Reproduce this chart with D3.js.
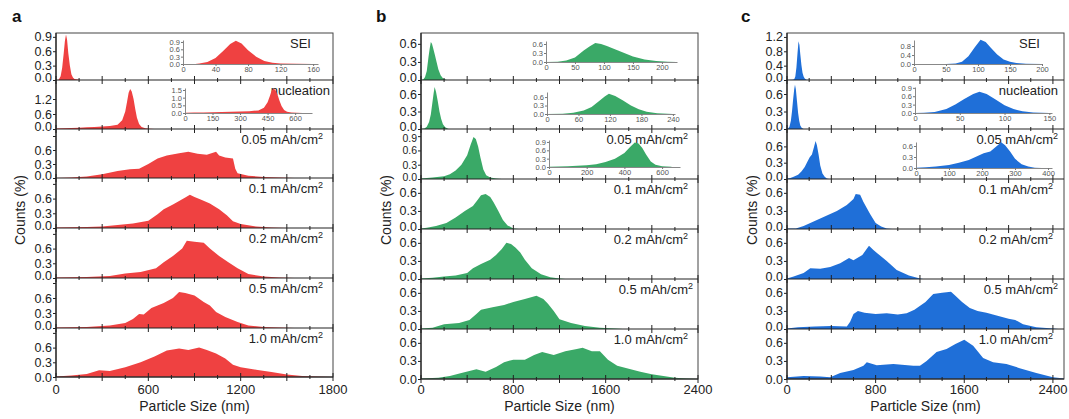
<!DOCTYPE html>
<html>
<head>
<meta charset="utf-8">
<script src="https://cdn.jsdelivr.net/npm/d3@7"></script>
<style>
body { margin: 0; background: #fff; }
text { font-family: "Liberation Sans", Arial, sans-serif; }
</style>
</head>
<body>
<svg width="1069" height="419"></svg>
<script>
// row names, top to bottom
var rowNames = ["SEI", "nucleation", "0.05", "0.1", "0.2", "0.5", "1.0"];

// size (nm), counts (%)
var aSEI = [[0,0],[15,0],[20,0.02],[30,0.08],[40,0.25],[50,0.55],[58,0.82],[65,0.95],[72,0.84],[80,0.56],[90,0.3],[100,0.12],[110,0.05],[120,0.02],[140,0.01],[160,0]];
var aNuc = [[0,0.02],[50,0.03],[100,0.04],[150,0.05],[200,0.07],[250,0.08],[300,0.1],[350,0.12],[400,0.17],[430,0.35],[450,0.7],[462,1.1],[472,1.45],[482,1.6],[492,1.5],[504,1.2],[515,0.8],[526,0.45],[540,0.2],[556,0.08],[580,0.03],[610,0.01],[640,0]];
var a005 = [[0,0],[100,0.01],[200,0.03],[300,0.08],[400,0.15],[480,0.19],[540,0.2],[600,0.3],[660,0.42],[720,0.48],[800,0.53],[860,0.56],[920,0.52],[980,0.5],[1040,0.56],[1060,0.48],[1100,0.44],[1150,0.42],[1165,0.2],[1180,0.1],[1250,0.05],[1350,0.02],[1450,0.01],[1550,0]];
var a01 = [[0,0.01],[200,0.02],[300,0.03],[400,0.06],[500,0.09],[600,0.15],[660,0.28],[700,0.38],[760,0.48],[800,0.55],[840,0.62],[870,0.68],[900,0.63],[940,0.58],[1000,0.5],[1060,0.38],[1110,0.26],[1150,0.14],[1200,0.08],[1300,0.03],[1400,0.01],[1500,0]];
var a02 = [[0,0.01],[200,0.02],[350,0.04],[450,0.09],[550,0.12],[650,0.2],[700,0.32],[760,0.45],[820,0.6],[850,0.76],[900,0.74],[960,0.72],[1000,0.6],[1060,0.45],[1120,0.32],[1180,0.2],[1250,0.08],[1350,0.03],[1450,0.01],[1550,0]];
var a05 = [[0,0.01],[200,0.02],[350,0.05],[450,0.1],[500,0.18],[540,0.28],[570,0.27],[620,0.4],[700,0.5],[760,0.6],[800,0.72],[840,0.7],[900,0.65],[960,0.52],[1000,0.45],[1040,0.32],[1100,0.22],[1180,0.12],[1250,0.05],[1350,0.02],[1450,0.01],[1550,0]];
var a10 = [[0,0.01],[100,0.03],[200,0.06],[280,0.14],[350,0.12],[450,0.2],[550,0.3],[640,0.42],[720,0.54],[800,0.58],[860,0.55],[930,0.6],[980,0.55],[1040,0.48],[1100,0.38],[1150,0.25],[1200,0.2],[1300,0.15],[1400,0.1],[1500,0.05],[1600,0.02],[1700,0.01],[1800,0]];

var bSEI = [[0,0],[20,0.01],[35,0.05],[50,0.15],[65,0.38],[75,0.52],[85,0.63],[95,0.6],[105,0.53],[120,0.42],[135,0.3],[150,0.18],[170,0.08],[190,0.03],[210,0.01],[225,0]];
var bNuc = [[0,0],[30,0.01],[50,0.04],[70,0.12],[85,0.25],[100,0.47],[110,0.62],[118,0.72],[130,0.64],[145,0.48],[160,0.3],[175,0.17],[190,0.08],[210,0.03],[230,0.01],[240,0]];
var b005 = [[0,0.01],[50,0.02],[100,0.03],[200,0.06],[250,0.1],[300,0.18],[350,0.3],[400,0.5],[430,0.72],[455,0.88],[475,0.84],[495,0.68],[515,0.45],[540,0.2],[565,0.08],[600,0.03],[650,0.01],[700,0]];
var b01 = [[0,0.01],[50,0.02],[130,0.05],[220,0.1],[300,0.19],[380,0.3],[450,0.38],[490,0.48],[520,0.56],[560,0.58],[600,0.53],[630,0.44],[670,0.3],[710,0.15],[750,0.06],[800,0.01],[850,0]];
var b02 = [[0,0.01],[100,0.02],[200,0.04],[300,0.06],[400,0.1],[450,0.18],[520,0.25],[600,0.32],[650,0.4],[700,0.5],[740,0.6],[780,0.58],[820,0.52],[860,0.44],[900,0.32],[960,0.18],[1040,0.08],[1120,0.03],[1200,0.01],[1250,0]];
var b05 = [[0,0.01],[100,0.02],[200,0.08],[330,0.1],[420,0.15],[480,0.25],[520,0.32],[620,0.36],[720,0.4],[800,0.45],[900,0.5],[1000,0.55],[1060,0.5],[1100,0.42],[1150,0.3],[1200,0.16],[1300,0.1],[1420,0.05],[1550,0.02],[1680,0.01],[1750,0]];
var b10 = [[0,0.01],[150,0.02],[250,0.05],[350,0.1],[480,0.16],[560,0.12],[650,0.2],[720,0.28],[800,0.32],[900,0.32],[980,0.4],[1050,0.45],[1150,0.4],[1250,0.46],[1350,0.5],[1400,0.52],[1480,0.46],[1550,0.46],[1620,0.32],[1700,0.22],[1800,0.17],[1900,0.12],[2000,0.08],[2100,0.05],[2200,0.02],[2300,0.01],[2400,0]];

var cSEI = [[0,0],[50,0.005],[65,0.02],[75,0.1],[85,0.35],[95,0.75],[104,1.08],[112,0.98],[120,0.72],[130,0.42],[140,0.2],[150,0.1],[160,0.04],[175,0.01],[200,0]];
var cNuc = [[0,0],[10,0.01],[22,0.04],[35,0.14],[45,0.3],[55,0.5],[65,0.68],[72,0.76],[80,0.68],[90,0.48],[100,0.28],[110,0.14],[120,0.06],[132,0.02],[150,0]];
var c005 = [[0,0.01],[30,0.02],[60,0.04],[100,0.08],[130,0.14],[160,0.22],[185,0.32],[205,0.4],[225,0.45],[245,0.6],[258,0.7],[270,0.62],[285,0.45],[300,0.25],[320,0.1],[340,0.04],[360,0.01],[380,0]];
var c01 = [[0,0.01],[80,0.01],[150,0.05],[210,0.1],[330,0.2],[450,0.3],[540,0.4],[600,0.5],[620,0.58],[660,0.57],[690,0.45],[720,0.35],[750,0.25],[800,0.1],[850,0.04],[900,0.01],[950,0]];
var c02 = [[0,0.01],[60,0.04],[150,0.1],[210,0.18],[300,0.17],[390,0.2],[480,0.26],[560,0.35],[600,0.31],[680,0.4],[740,0.55],[780,0.48],[820,0.42],[900,0.3],[990,0.15],[1100,0.06],[1200,0.01],[1230,0]];
var c05 = [[0,0.01],[100,0.03],[250,0.04],[400,0.05],[540,0.04],[570,0.12],[600,0.25],[640,0.3],[700,0.27],[800,0.25],[900,0.26],[1000,0.24],[1080,0.26],[1150,0.32],[1250,0.45],[1320,0.58],[1400,0.6],[1480,0.62],[1520,0.55],[1580,0.45],[1650,0.35],[1720,0.3],[1800,0.27],[1900,0.22],[2000,0.17],[2060,0.15],[2130,0.08],[2250,0.03],[2400,0.01],[2450,0]];
var c10 = [[0,0.03],[150,0.05],[300,0.04],[390,0.03],[480,0.1],[600,0.15],[690,0.22],[720,0.28],[810,0.23],[960,0.25],[1140,0.22],[1200,0.22],[1260,0.3],[1350,0.45],[1440,0.5],[1520,0.58],[1600,0.65],[1680,0.55],[1770,0.35],[1860,0.28],[1980,0.25],[2100,0.18],[2250,0.1],[2400,0.03],[2500,0.01]];

// axis ranges and tick labels
var xTicksA = [0, 600, 1200, 1800];
var xTicksBC = [0, 800, 1600, 2400];
var yMaxA = [0.98, 1.96, 1.05, 1.02, 1.02, 1.0, 1.0];
var yMaxB = [0.78, 0.84, 1.05, 0.83, 0.83, 0.83, 0.83];
var yMaxC = [1.31, 0.84, 0.92, 0.83, 0.83, 0.83, 0.83];
var yTicksA = [[0,0.3,0.6,0.9],[0,0.6,1.2],[0,0.3,0.6,0.9],[0,0.3,0.6,0.9],[0,0.3,0.6,0.9],[0,0.3,0.6,0.9],[0,0.3,0.6,0.9]];
var yLabelMaxA = [0.9, 1.2, 0.6, 0.6, 0.6, 0.6, 0.6];
var yTicksB = [[0,0.3,0.6],[0,0.3,0.6],[0,0.3,0.6,0.9],[0,0.3,0.6],[0,0.3,0.6],[0,0.3,0.6],[0,0.3,0.6]];
var yTicksC = [[0,0.4,0.8,1.2],[0,0.3,0.6],[0,0.3,0.6],[0,0.3,0.6],[0,0.3,0.6],[0,0.3,0.6],[0,0.3,0.6]];

// inset ticks
var insXTicksA = [[0,40,80,120,160],[0,150,300,450,600]];
var insYTicksA = [[0,0.3,0.6,0.9],[0,0.5,1.0,1.5]];
var insXTicksB = [[0,50,100,150,200],[0,60,120,180,240],[0,200,400,600]];
var insYTicksB = [[0,0.3,0.6],[0,0.3,0.6],[0,0.3,0.6,0.9]];
var insXTicksC = [[0,50,100,150,200],[0,50,100,150],[0,100,200,300,400]];
var insYTicksC = [[0,0.4,0.8],[0,0.3,0.6,0.9],[0,0.3,0.6]];
var insXMaxA = [166, 692], insYMaxA = [0.98, 1.63];
var insXMaxB = [226, 244, 695], insYMaxB = [0.7, 0.78, 0.97];
var insXMaxC = [200, 153, 412], insYMaxC = [1.07, 0.93, 0.71];

var svg = d3.select("svg");
var fmt = d3.format(".1f");

var panels = [
  {id: "a", color: "#ef4141", x0: 56, x1: 333, xMax: 1800, major: 300, showNames: true,
   edges: [33, 80, 129, 178, 228, 278, 328, 377],
   data: [aSEI, aNuc, a005, a01, a02, a05, a10], yMax: yMaxA, yTicks: yTicksA, yLabelMax: yLabelMaxA,
   xTicks: xTicksA, labelX: 12, countsX: 20,
   labelDx: [-22, -3, -10, -10, -10, -10, -10],
   insets: [
     {row: 0, x0: 183, x1: 318, yb: 64, yt: 40, xMax: insXMaxA[0], yMax: insYMaxA[0], xt: insXTicksA[0], yt2: insYTicksA[0]},
     {row: 1, x0: 185, x1: 312, yb: 113, yt: 88, xMax: insXMaxA[1], yMax: insYMaxA[1], xt: insXTicksA[1], yt2: insYTicksA[1]}
   ]},
  {id: "b", color: "#3aa967", x0: 421, x1: 698, xMax: 2400, major: 400, showNames: false,
   edges: [33, 80, 129, 179, 229, 279, 329, 379],
   data: [bSEI, bNuc, b005, b01, b02, b05, b10], yMax: yMaxB, yTicks: yTicksB, yLabelMax: [0.9,0.9,0.9,0.9,0.9,0.9,0.9],
   xTicks: xTicksBC, labelX: 376, countsX: 386,
   labelDx: [0, 0, -10, -10, -10, -5, -10],
   insets: [
     {row: 0, x0: 546, x1: 677, yb: 62, yt: 41, xMax: insXMaxB[0], yMax: insYMaxB[0], xt: insXTicksB[0], yt2: insYTicksB[0]},
     {row: 1, x0: 547, x1: 675, yb: 114, yt: 92, xMax: insXMaxB[1], yMax: insYMaxB[1], xt: insXTicksB[1], yt2: insYTicksB[1]},
     {row: 2, x0: 549, x1: 680, yb: 167, yt: 140, xMax: insXMaxB[2], yMax: insYMaxB[2], xt: insXTicksB[2], yt2: insYTicksB[2]}
   ]},
  {id: "c", color: "#1f6fd8", x0: 787, x1: 1064, xMax: 2500, major: 400, showNames: true,
   edges: [33, 80, 129, 179, 229, 279, 329, 379],
   data: [cSEI, cNuc, c005, c01, c02, c05, c10], yMax: yMaxC, yTicks: yTicksC, yLabelMax: [1.2,0.9,0.9,0.9,0.9,0.9,0.9],
   xTicks: xTicksBC, labelX: 741, countsX: 752,
   labelDx: [-24, -6, -6, -11, -11, -6, -11],
   insets: [
     {row: 0, x0: 914, x1: 1042, yb: 64, yt: 40, xMax: insXMaxC[0], yMax: insYMaxC[0], xt: insXTicksC[0], yt2: insYTicksC[0]},
     {row: 1, x0: 915, x1: 1052, yb: 113, yt: 87, xMax: insXMaxC[1], yMax: insYMaxC[1], xt: insXTicksC[1], yt2: insYTicksC[1]},
     {row: 2, x0: 916, x1: 1052, yb: 168, yt: 142, xMax: insXMaxC[2], yMax: insYMaxC[2], xt: insXTicksC[2], yt2: insYTicksC[2]}
   ]}
];

var defs = svg.append("defs");

panels.forEach(function(p) {
  var g = svg.append("g");
  var x = d3.scaleLinear().domain([0, p.xMax]).range([p.x0, p.x1]);
  var top = p.edges[0], bottom = p.edges[p.edges.length - 1];

  defs.append("clipPath").attr("id", "clip-" + p.id)
    .append("rect").attr("x", p.x0).attr("y", top).attr("width", p.x1 - p.x0).attr("height", bottom - top);

  // histograms
  p.data.forEach(function(pts, i) {
    var yb = p.edges[i + 1], yt = p.edges[i];
    var y = d3.scaleLinear().domain([0, p.yMax[i]]).range([yb, yt]);
    g.append("path").datum(pts)
      .attr("clip-path", "url(#clip-" + p.id + ")")
      .attr("fill", p.color)
      .attr("d", d3.area().x(function(d) { return x(d[0]); }).y0(yb).y1(function(d) { return y(d[1]); }));

    var lm = p.yLabelMax[i];
    var ticks = p.yTicks[i];
    var topLbl = ticks.filter(function(d) { return d <= lm + 1e-6; }).pop();
    // a row whose top label sits right under the row above gets smaller labels
    var crowded = i > 0 && y(topLbl) - yt < 9;
    var ya = g.append("g").attr("transform", "translate(" + p.x0 + ",0)")
      .call(d3.axisLeft(y).tickValues(ticks).tickSize(3).tickPadding(1)
        .tickFormat(function(d) { return d > lm + 1e-6 ? "" : fmt(d); }));
    ya.select(".domain").remove();
    ya.selectAll("line").attr("stroke", "#222");
    ya.selectAll("text").attr("font-size", crowded ? 10.5 : 12.5)
      .attr("font-family", "Liberation Sans, Arial, sans-serif").attr("fill", "#222")
      .attr("dy", function(d) {
        if (crowded && d === topLbl) return "0.5em";
        if (d === 0 && i < 6) return "0.15em";
        return "0.32em";
      });

    // row label
    if (i < 2 && !p.showNames) return;
    var lbl = g.append("text")
      .attr("x", p.x1 + p.labelDx[i]).attr("y", yt + 15)
      .attr("text-anchor", "end").attr("font-size", 13).attr("fill", "#222");
    if (i < 2) {
      lbl.text(rowNames[i]);
    } else {
      lbl.text(rowNames[i] + " mAh/cm");
      lbl.append("tspan").attr("dy", -5).attr("font-size", 9).text("2");
    }
  });

  // frame and separators
  g.append("rect").attr("x", p.x0).attr("y", top).attr("width", p.x1 - p.x0).attr("height", bottom - top)
    .attr("fill", "none").attr("stroke", "#444").attr("stroke-width", 1);
  var minor = d3.range(0, p.xMax + 1, p.major / 2);
  p.edges.slice(1).forEach(function(ey) {
    g.append("line").attr("x1", p.x0).attr("x2", p.x1).attr("y1", ey).attr("y2", ey)
      .attr("stroke", "#222").attr("stroke-width", 1.2);
    minor.forEach(function(v) {
      var isMajor = Math.abs(v / p.major - Math.round(v / p.major)) < 1e-6;
      var len = isMajor ? 4 : 2;
      g.append("line").attr("x1", x(v)).attr("x2", x(v)).attr("y1", ey - len).attr("y2", ey + len)
        .attr("stroke", "#222").attr("stroke-width", 1);
    });
  });
  g.append("line").attr("x1", p.x0).attr("x2", p.x0).attr("y1", top).attr("y2", bottom)
    .attr("stroke", "#222").attr("stroke-width", 1.2);

  // bottom tick labels
  g.selectAll(".xl").data(p.xTicks).enter().append("text")
    .attr("x", function(d) { return x(d); }).attr("y", 394)
    .attr("text-anchor", "middle").attr("font-size", 13).attr("fill", "#222")
    .text(function(d) { return d; });

  g.append("text").attr("x", (p.x0 + p.x1) / 2).attr("y", 411)
    .attr("text-anchor", "middle").attr("font-size", 14).attr("fill", "#222")
    .text("Particle Size (nm)");
  g.append("text").attr("transform", "translate(" + p.countsX + ",210) rotate(-90)")
    .attr("text-anchor", "middle").attr("dy", "0.35em").attr("font-size", 14).attr("fill", "#222")
    .text("Counts (%)");
  g.append("text").attr("x", p.labelX).attr("y", 22)
    .attr("font-size", 17).attr("font-weight", "bold").attr("fill", "#111")
    .text(p.id);

  // insets
  p.insets.forEach(function(ins) {
    var pts = p.data[ins.row].filter(function(d) { return d[0] <= ins.xMax; });
    var ix = d3.scaleLinear().domain([0, ins.xMax]).range([ins.x0, ins.x1]);
    var iy = d3.scaleLinear().domain([0, ins.yMax]).range([ins.yb, ins.yt]);
    g.append("path").datum(pts).attr("fill", p.color)
      .attr("d", d3.area().x(function(d) { return ix(d[0]); }).y0(ins.yb).y1(function(d) { return iy(d[1]); }));
    var xa = g.append("g").attr("transform", "translate(0," + ins.yb + ")")
      .call(d3.axisBottom(ix).tickValues(ins.xt).tickSizeInner(2).tickSizeOuter(0).tickPadding(1).tickFormat(d3.format("d")));
    var yax = g.append("g").attr("transform", "translate(" + ins.x0 + ",0)")
      .call(d3.axisLeft(iy).tickValues(ins.yt2).tickSizeInner(2).tickSizeOuter(0).tickPadding(1).tickFormat(fmt));
    [xa, yax].forEach(function(a) {
      a.select(".domain").attr("stroke", "#888");
      a.selectAll("line").attr("stroke", "#777");
      a.selectAll("text").attr("font-size", 7.5).attr("font-family", "Liberation Sans, Arial, sans-serif").attr("fill", "#555");
    });
  });
});
</script>
</body>
</html>
